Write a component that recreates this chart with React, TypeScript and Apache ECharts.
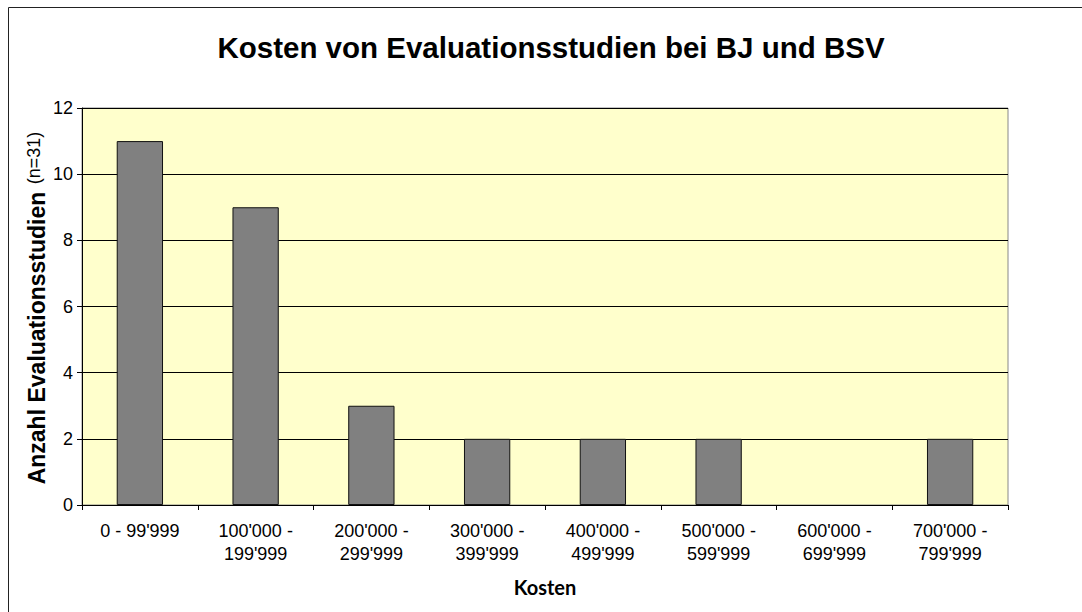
import React, { useEffect, useRef } from "react";
import * as echarts from "echarts";

const categories = [
  "0 - 99'999",
  "100'000 -\n199'999",
  "200'000 -\n299'999",
  "300'000 -\n399'999",
  "400'000 -\n499'999",
  "500'000 -\n599'999",
  "600'000 -\n699'999",
  "700'000 -\n799'999",
];
const counts = [11, 9, 3, 2, 2, 2, 0, 2];
const titleText = "Kosten von Evaluationsstudien bei BJ und BSV";
const yTitle = "Anzahl Evaluationsstudien";
const yNote = "(n=31)";
const xTitle = "Kosten";

export default function App() {
  const ref = useRef<HTMLDivElement>(null);
  useEffect(() => {
    if (!ref.current) return;
    const chart = echarts.init(ref.current, undefined, { renderer: "svg" });
    const font = "'Liberation Sans', Arial, sans-serif";
    chart.setOption({
      animation: false,
      backgroundColor: "#ffffff",
      textStyle: { fontFamily: font },
      graphic: [
        {
          type: "rect",
          shape: { x: 8.5, y: 7.5, width: 1200, height: 800 },
          style: { fill: "none", stroke: "#222", lineWidth: 1 },
          z: 0,
        },
        {
          type: "rect",
          shape: { x: 82, y: 108, width: 926, height: 397 },
          style: { fill: "#ffffcc", stroke: "#888", lineWidth: 1 },
          z: -1,
        },
        {
          type: "text",
          x: 551,
          y: 47,
          style: {
            text: titleText,
            font: "bold 29.5px 'Liberation Sans', Arial, sans-serif",
            fill: "#000",
            textAlign: "center",
            textVerticalAlign: "middle",
          },
        },
        {
          type: "text",
          x: 37,
          y: 338,
          rotation: Math.PI / 2,
          style: {
            text: yTitle,
            font: "bold 23px 'Liberation Sans', Arial, sans-serif",
            fill: "#000",
            textAlign: "center",
            textVerticalAlign: "middle",
          },
        },
        {
          type: "text",
          x: 34,
          y: 158,
          rotation: Math.PI / 2,
          style: {
            text: yNote,
            font: "18px 'Liberation Sans', Arial, sans-serif",
            fill: "#000",
            textAlign: "center",
            textVerticalAlign: "middle",
          },
        },
      ],
      grid: { left: 82, top: 108, width: 926, height: 397, containLabel: false },
      xAxis: {
        type: "category",
        data: categories,
        name: xTitle,
        nameLocation: "middle",
        nameGap: 72,
        nameTextStyle: {
          fontFamily: "Lato, 'Open Sans', sans-serif",
          fontWeight: "bold",
          fontSize: 20,
          color: "#000",
        },
        axisLine: { lineStyle: { color: "#000", width: 1 } },
        axisTick: { show: true, length: 5, alignWithLabel: false, lineStyle: { color: "#000" } },
        axisLabel: {
          color: "#000",
          fontSize: 18,
          lineHeight: 23,
          margin: 14,
          interval: 0,
          fontFamily: font,
        },
      },
      yAxis: {
        type: "value",
        min: 0,
        max: 12,
        interval: 2,
        axisLine: { show: true, lineStyle: { color: "#000", width: 1 } },
        axisTick: { show: true, length: 5, lineStyle: { color: "#000" } },
        axisLabel: { color: "#000", fontSize: 18, margin: 9, fontFamily: font },
        splitLine: { show: true, lineStyle: { color: "#000", width: 1 } },
      },
      series: [
        {
          type: "bar",
          data: counts.map((v) =>
            v === 0 ? { value: v, itemStyle: { borderWidth: 0 } } : v
          ),
          barWidth: "40%",
          itemStyle: { color: "#808080", borderColor: "#111", borderWidth: 1 },
        },
      ],
    });
    return () => chart.dispose();
  }, []);
  return (
    <div
      ref={ref}
      style={{ position: "absolute", left: 0, top: 0, width: 1082, height: 612 }}
    />
  );
}
